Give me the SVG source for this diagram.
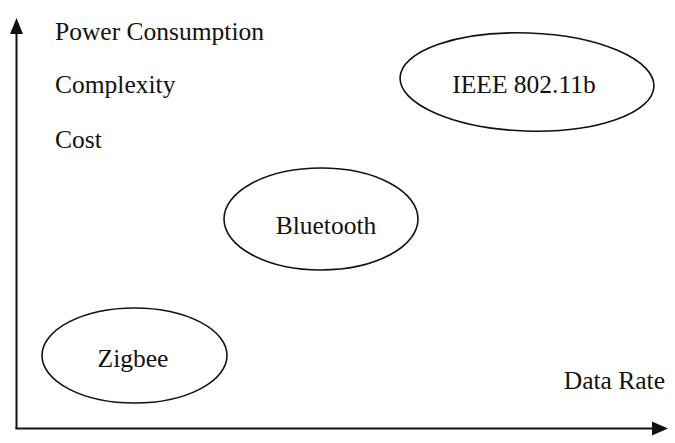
<svg xmlns="http://www.w3.org/2000/svg" width="675" height="443" viewBox="0 0 675 443">
<style>
text{font-family:"Liberation Serif","Times New Roman",serif;font-size:25.5px;fill:#111}
.n{fill:none;stroke:#111;stroke-width:1.6}
.ax{stroke:#111;stroke-width:2;fill:none}
.c{text-anchor:middle}
</style>
<rect width="675" height="443" fill="#fff"/>
<g id="axes">
<line class="ax" x1="16.5" y1="429" x2="16.5" y2="32"/>
<polygon points="16.5,18 10,34 23,34" fill="#111"/>
<line class="ax" x1="15.5" y1="428.5" x2="653" y2="428.5"/>
<polygon points="668,428.5 652,421.5 652,435.5" fill="#111"/>
</g>
<g id="labels">
<text x="55" y="40">Power Consumption</text>
<text x="55" y="93">Complexity</text>
<text x="55" y="148">Cost</text>
<text x="665" y="389" text-anchor="end">Data Rate</text>
</g>
<g id="ieee">
<ellipse class="n" cx="527" cy="82" rx="127" ry="49" transform="rotate(2 527 82)"/>
<text class="c" x="524" y="93">IEEE 802.11b</text>
</g>
<g id="bluetooth">
<ellipse class="n" cx="321" cy="219" rx="97" ry="51"/>
<text class="c" x="326" y="234">Bluetooth</text>
</g>
<g id="zigbee">
<ellipse class="n" cx="134.5" cy="355.5" rx="92.5" ry="47.5"/>
<text class="c" x="133" y="367">Zigbee</text>
</g>
</svg>
